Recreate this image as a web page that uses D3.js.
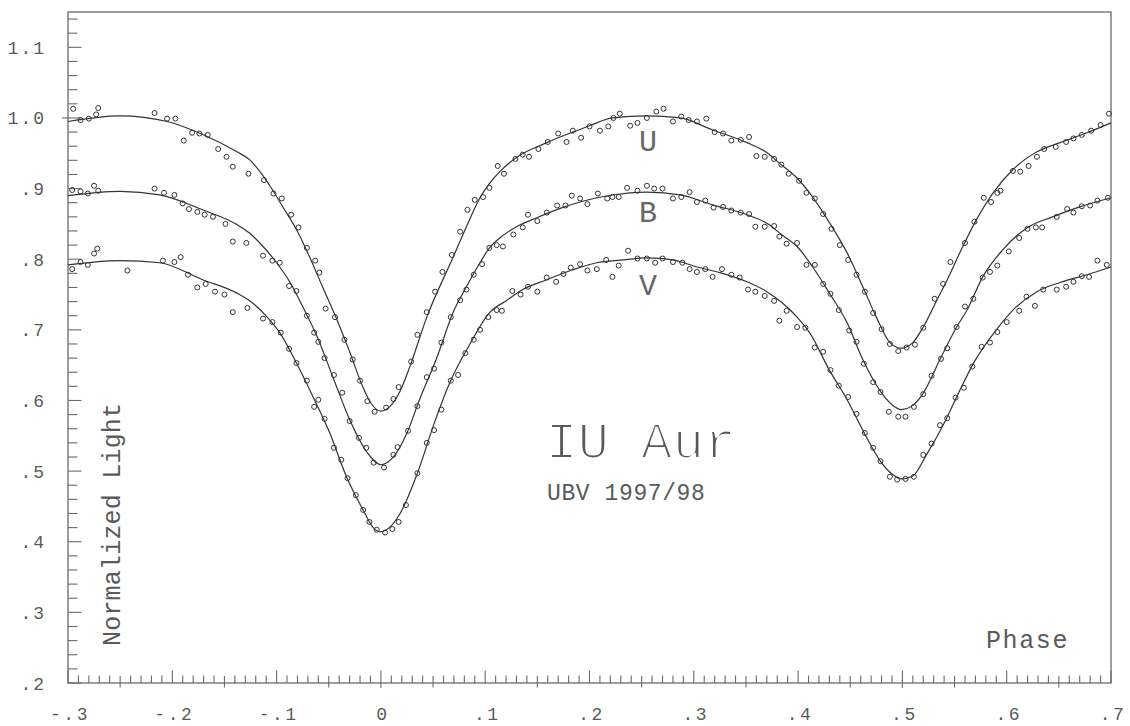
<!DOCTYPE html>
<html>
<head>
<meta charset="utf-8">
<script src="https://cdn.jsdelivr.net/npm/d3@7"></script>
<style>
  body { margin: 0; background: #fff; }
  text { font-family: "Liberation Mono", "DejaVu Sans Mono", monospace; fill: #5a5a5a; }
</style>
</head>
<body>
<svg id="chart" width="1130" height="726"></svg>
<script>
// IU Aur, UBV light curves 1997/98: fitted model and observed normal points
// Each entry: [phase, normalized light]

const uModel = [
  [-0.300,0.995],[-0.250,1.003],[-0.205,0.995],[-0.173,0.978],[-0.138,0.952],[-0.126,0.941],[-0.116,0.924],
  [-0.106,0.903],[-0.094,0.874],[-0.081,0.842],[-0.068,0.802],[-0.056,0.761],[-0.042,0.714],[-0.030,0.669],
  [-0.017,0.618],[-0.009,0.595],[0.000,0.585],[0.009,0.592],[0.018,0.612],[0.028,0.649],[0.044,0.718],
  [0.069,0.802],[0.085,0.856],[0.095,0.887],[0.104,0.907],[0.114,0.924],[0.128,0.942],[0.159,0.965],
  [0.184,0.980],[0.200,0.989],[0.222,1.000],[0.255,1.003],[0.287,1.000],[0.318,0.983],[0.351,0.965],
  [0.370,0.951],[0.382,0.936],[0.399,0.915],[0.414,0.888],[0.430,0.852],[0.447,0.809],[0.462,0.761],
  [0.475,0.718],[0.488,0.682],[0.499,0.674],[0.510,0.682],[0.520,0.704],[0.533,0.742],[0.543,0.771],
  [0.555,0.809],[0.571,0.856],[0.587,0.894],[0.606,0.927],[0.629,0.952],[0.651,0.965],[0.677,0.979],[0.700,0.993]
];

const bModel = [
  [-0.300,0.890],[-0.250,0.896],[-0.212,0.891],[-0.171,0.870],[-0.138,0.849],[-0.126,0.837],[-0.113,0.818],
  [-0.100,0.795],[-0.087,0.767],[-0.075,0.733],[-0.061,0.690],[-0.046,0.633],[-0.030,0.573],[-0.013,0.526],
  [0.000,0.509],[0.012,0.520],[0.025,0.554],[0.037,0.601],[0.054,0.662],[0.069,0.724],[0.082,0.761],
  [0.095,0.795],[0.104,0.816],[0.114,0.830],[0.130,0.846],[0.150,0.859],[0.174,0.873],[0.207,0.887],
  [0.239,0.894],[0.255,0.895],[0.287,0.891],[0.318,0.877],[0.351,0.863],[0.370,0.851],[0.385,0.834],
  [0.399,0.818],[0.414,0.789],[0.430,0.752],[0.447,0.710],[0.462,0.658],[0.478,0.615],[0.490,0.594],
  [0.499,0.587],[0.509,0.592],[0.519,0.608],[0.536,0.658],[0.552,0.704],[0.562,0.728],[0.577,0.775],
  [0.596,0.813],[0.619,0.844],[0.644,0.860],[0.670,0.874],[0.700,0.887]
];

const vModel = [
  [-0.300,0.792],[-0.250,0.798],[-0.212,0.795],[-0.171,0.771],[-0.138,0.752],[-0.123,0.738],[-0.109,0.718],
  [-0.097,0.696],[-0.081,0.653],[-0.065,0.605],[-0.049,0.554],[-0.033,0.492],[-0.016,0.442],[-0.008,0.421],
  [0.000,0.414],[0.008,0.420],[0.018,0.439],[0.035,0.497],[0.050,0.563],[0.066,0.625],[0.085,0.679],
  [0.104,0.724],[0.121,0.742],[0.136,0.757],[0.159,0.771],[0.184,0.785],[0.207,0.795],[0.232,0.799],
  [0.255,0.802],[0.280,0.799],[0.303,0.789],[0.325,0.781],[0.351,0.768],[0.370,0.754],[0.385,0.738],
  [0.399,0.718],[0.411,0.696],[0.430,0.643],[0.447,0.601],[0.462,0.558],[0.478,0.516],[0.490,0.496],
  [0.499,0.489],[0.510,0.493],[0.523,0.523],[0.539,0.565],[0.553,0.608],[0.569,0.655],[0.590,0.700],
  [0.606,0.728],[0.629,0.754],[0.651,0.767],[0.677,0.778],[0.700,0.789]
];

const uObs = [
  [-0.295,1.013],[-0.288,0.997],[-0.280,0.999],[-0.273,1.005],[-0.271,1.014],
  [-0.217,1.007],[-0.205,0.999],[-0.197,0.999],[-0.189,0.968],[-0.181,0.979],[-0.174,0.978],[-0.166,0.976],
  [-0.156,0.956],[-0.148,0.945],[-0.142,0.931],[-0.127,0.921],[-0.112,0.912],[-0.103,0.893],[-0.095,0.886],
  [-0.086,0.863],[-0.079,0.845],[-0.071,0.816],[-0.063,0.798],[-0.059,0.781],[-0.053,0.730],[-0.044,0.718],
  [-0.035,0.686],[-0.027,0.658],[-0.020,0.628],[-0.013,0.599],[-0.006,0.584],[0.005,0.590],[0.012,0.602],
  [0.017,0.619],[0.029,0.655],[0.035,0.693],[0.044,0.725],[0.052,0.754],[0.059,0.782],[0.068,0.806],
  [0.076,0.839],[0.083,0.870],[0.090,0.884],[0.098,0.888],[0.104,0.901],[0.112,0.932],[0.118,0.921],
  [0.129,0.942],[0.136,0.948],[0.142,0.945],[0.151,0.956],[0.160,0.966],[0.170,0.978],[0.178,0.966],
  [0.184,0.982],[0.192,0.972],[0.200,0.988],[0.210,0.982],[0.218,0.988],[0.223,1.000],[0.229,1.006],
  [0.239,0.989],[0.246,0.993],[0.255,1.000],[0.264,1.009],[0.271,1.013],[0.280,0.995],[0.288,1.002],
  [0.295,0.997],[0.303,0.995],[0.312,0.999],[0.320,0.980],[0.328,0.978],[0.336,0.968],[0.345,0.969],
  [0.353,0.973],[0.360,0.946],[0.368,0.945],[0.377,0.942],[0.384,0.934],[0.391,0.921],[0.401,0.911],
  [0.408,0.894],[0.416,0.886],[0.424,0.864],[0.432,0.843],[0.440,0.820],[0.448,0.799],[0.456,0.778],
  [0.464,0.754],[0.472,0.724],[0.480,0.701],[0.488,0.680],[0.496,0.670],[0.504,0.675],[0.512,0.679],
  [0.520,0.703],[0.531,0.744],[0.539,0.765],[0.546,0.796],[0.560,0.823],[0.569,0.853],[0.578,0.887],
  [0.585,0.881],[0.591,0.894],[0.594,0.897],[0.606,0.925],[0.613,0.924],[0.621,0.932],[0.629,0.945],
  [0.636,0.956],[0.647,0.959],[0.657,0.966],[0.664,0.971],[0.672,0.976],[0.681,0.982],[0.690,0.990],[0.698,1.006]
];

const bObs = [
  [-0.296,0.898],[-0.288,0.896],[-0.281,0.893],[-0.275,0.904],[-0.271,0.897],
  [-0.217,0.900],[-0.208,0.894],[-0.198,0.891],[-0.190,0.879],[-0.184,0.871],[-0.176,0.867],[-0.169,0.863],
  [-0.161,0.860],[-0.149,0.850],[-0.142,0.825],[-0.129,0.823],[-0.113,0.805],[-0.104,0.798],[-0.097,0.795],
  [-0.088,0.762],[-0.081,0.755],[-0.071,0.720],[-0.064,0.696],[-0.060,0.683],[-0.054,0.660],[-0.045,0.636],
  [-0.037,0.611],[-0.030,0.571],[-0.021,0.547],[-0.014,0.533],[-0.007,0.512],[0.003,0.505],[0.012,0.523],
  [0.016,0.534],[0.026,0.557],[0.035,0.592],[0.044,0.633],[0.051,0.645],[0.058,0.682],[0.067,0.718],
  [0.076,0.742],[0.082,0.757],[0.089,0.778],[0.097,0.793],[0.104,0.816],[0.111,0.820],[0.117,0.818],
  [0.127,0.835],[0.136,0.845],[0.141,0.863],[0.150,0.854],[0.159,0.866],[0.169,0.876],[0.177,0.876],
  [0.183,0.890],[0.191,0.886],[0.198,0.878],[0.208,0.893],[0.217,0.886],[0.222,0.888],[0.228,0.888],
  [0.236,0.901],[0.246,0.897],[0.255,0.904],[0.262,0.900],[0.270,0.900],[0.280,0.886],[0.288,0.888],
  [0.296,0.895],[0.303,0.881],[0.311,0.883],[0.319,0.873],[0.328,0.874],[0.336,0.869],[0.345,0.866],
  [0.353,0.864],[0.359,0.846],[0.368,0.846],[0.377,0.847],[0.382,0.832],[0.389,0.822],[0.399,0.823],
  [0.408,0.792],[0.416,0.792],[0.424,0.765],[0.431,0.751],[0.439,0.728],[0.449,0.699],[0.456,0.683],
  [0.463,0.652],[0.472,0.626],[0.479,0.612],[0.487,0.584],[0.496,0.577],[0.503,0.577],[0.511,0.591],
  [0.520,0.609],[0.528,0.635],[0.537,0.659],[0.543,0.674],[0.552,0.704],[0.560,0.733],[0.568,0.744],
  [0.577,0.774],[0.584,0.782],[0.591,0.791],[0.602,0.811],[0.612,0.830],[0.620,0.843],[0.628,0.845],
  [0.634,0.845],[0.648,0.860],[0.658,0.871],[0.664,0.866],[0.672,0.875],[0.680,0.876],[0.687,0.883],[0.697,0.887]
];

const vObs = [
  [-0.296,0.786],[-0.288,0.796],[-0.281,0.792],[-0.275,0.808],[-0.272,0.815],[-0.243,0.784],
  [-0.209,0.798],[-0.198,0.796],[-0.192,0.803],[-0.185,0.778],[-0.176,0.760],[-0.168,0.765],[-0.159,0.754],
  [-0.150,0.750],[-0.142,0.725],[-0.128,0.731],[-0.113,0.716],[-0.104,0.711],[-0.096,0.696],[-0.088,0.673],
  [-0.081,0.653],[-0.071,0.628],[-0.064,0.591],[-0.060,0.601],[-0.054,0.574],[-0.045,0.533],[-0.038,0.516],
  [-0.032,0.490],[-0.024,0.466],[-0.017,0.445],[-0.011,0.428],[-0.004,0.417],[0.004,0.413],[0.011,0.418],
  [0.017,0.428],[0.024,0.452],[0.035,0.497],[0.044,0.540],[0.051,0.558],[0.058,0.587],[0.067,0.628],
  [0.074,0.636],[0.081,0.667],[0.089,0.686],[0.095,0.700],[0.103,0.718],[0.111,0.728],[0.116,0.727],
  [0.126,0.755],[0.134,0.750],[0.141,0.761],[0.150,0.754],[0.159,0.774],[0.168,0.768],[0.175,0.779],
  [0.182,0.788],[0.191,0.793],[0.198,0.784],[0.207,0.786],[0.216,0.799],[0.222,0.775],[0.228,0.791],
  [0.237,0.812],[0.246,0.801],[0.255,0.801],[0.263,0.795],[0.270,0.801],[0.280,0.796],[0.289,0.795],
  [0.296,0.786],[0.303,0.782],[0.311,0.786],[0.318,0.775],[0.327,0.786],[0.336,0.778],[0.344,0.774],
  [0.352,0.757],[0.359,0.754],[0.368,0.748],[0.377,0.741],[0.382,0.713],[0.389,0.727],[0.399,0.704],
  [0.407,0.703],[0.416,0.675],[0.424,0.669],[0.431,0.643],[0.439,0.621],[0.448,0.605],[0.456,0.581],
  [0.464,0.554],[0.472,0.533],[0.479,0.514],[0.488,0.492],[0.495,0.488],[0.503,0.489],[0.511,0.492],
  [0.520,0.523],[0.528,0.539],[0.536,0.565],[0.543,0.575],[0.551,0.604],[0.559,0.618],[0.567,0.648],
  [0.576,0.676],[0.584,0.682],[0.591,0.697],[0.600,0.711],[0.612,0.727],[0.619,0.747],[0.627,0.734],
  [0.635,0.757],[0.648,0.757],[0.657,0.761],[0.664,0.768],[0.672,0.776],[0.679,0.775],[0.687,0.798],[0.696,0.792]
];

// Axis ticks and their printed labels
const xMajorTicks = [-0.3, -0.2, -0.1, 0, 0.1, 0.2, 0.3, 0.4, 0.5, 0.6, 0.7];
const xTickLabels = ["-.3", "-.2", "-.1", "0", ".1", ".2", ".3", ".4", ".5", ".6", ".7"];
const yMajorTicks = [0.2, 0.3, 0.4, 0.5, 0.6, 0.7, 0.8, 0.9, 1.0, 1.1];
const yTickLabels = [".2", ".3", ".4", ".5", ".6", ".7", ".8", ".9", "1.0", "1.1"];

// Band labels placed above the maximum of each curve
const bandNames = ["U", "B", "V"];
const bandLabelValues = [0.953, 0.853, 0.750];
const bandLabelPhase = 0.256;

const svg = d3.select("#chart");
const axisColor = "#6a6a6a";
const inkColor = "#333";

// Pen-weight filter: erode the large title's outlines so it reads as thin plotter strokes
svg.append("defs").append("filter").attr("id", "pen-thin")
  .attr("x", "-5%").attr("y", "-5%").attr("width", "110%").attr("height", "110%")
  .append("feMorphology").attr("operator", "erode").attr("radius", 1);

const x = d3.scaleLinear().domain([-0.3, 0.7]).range([68, 1111]);
const y = d3.scaleLinear().domain([0.2, 1.15]).range([683, 12]);

// Frame
svg.append("rect")
  .attr("x", x(-0.3)).attr("y", y(1.15))
  .attr("width", x(0.7) - x(-0.3)).attr("height", y(0.2) - y(1.15))
  .attr("fill", "none").attr("stroke", axisColor).attr("stroke-width", 1.3);

// X ticks: every 0.01, half-steps cross the axis, tenths are tall, eclipse phases extend both ways
const xTicks = d3.range(0, 101).map(i => ({ i, v: -0.3 + i * 0.01 }));
svg.append("g").selectAll("line").data(xTicks).join("line")
  .attr("x1", d => x(d.v)).attr("x2", d => x(d.v))
  .attr("y1", d => {
    if (d.i % 10 === 0) return y(0.2) - 12.5;
    if (d.i % 5 === 0) return y(0.2) - 7;
    return y(0.2) - 7.5;
  })
  .attr("y2", d => {
    if (d.i === 30 || d.i === 80) return y(0.2) + 5;
    if (d.i % 10 === 0) return y(0.2);
    if (d.i % 5 === 0) return y(0.2) + 4.5;
    return y(0.2);
  })
  .attr("stroke", axisColor).attr("stroke-width", 1.1);

// Y ticks: every 0.02, tenths longer, unit level extends outside
const yTicks = d3.range(0, 48).map(i => ({ i, v: 0.2 + i * 0.02 }));
svg.append("g").selectAll("line").data(yTicks).join("line")
  .attr("y1", d => y(d.v)).attr("y2", d => y(d.v))
  .attr("x1", d => d.i === 40 ? x(-0.3) - 6 : x(-0.3))
  .attr("x2", d => d.i % 5 === 0 ? x(-0.3) + 13.5 : x(-0.3) + 9.5)
  .attr("stroke", axisColor).attr("stroke-width", 1.1);

// Tick labels
svg.append("g").selectAll("text").data(xMajorTicks).join("text")
  .attr("x", d => x(d) + 2).attr("y", 720)
  .attr("text-anchor", "middle")
  .attr("font-size", 18).attr("letter-spacing", 2.5)
  .text((d, i) => xTickLabels[i]);

svg.append("g").selectAll("text").data(yMajorTicks).join("text")
  .attr("x", 46).attr("y", d => y(d) + 6.5)
  .attr("text-anchor", "end")
  .attr("font-size", 18).attr("letter-spacing", 2)
  .text((d, i) => yTickLabels[i]);

// Fitted light curves
const line = d3.line().x(d => x(d[0])).y(d => y(d[1])).curve(d3.curveMonotoneX);
[uModel, bModel, vModel].forEach(series => {
  svg.append("path").datum(series)
    .attr("d", line)
    .attr("fill", "none").attr("stroke", inkColor).attr("stroke-width", 1.2);
});

// Observations
[uObs, bObs, vObs].forEach(series => {
  svg.append("g").selectAll("circle").data(series).join("circle")
    .attr("cx", d => x(d[0])).attr("cy", d => y(d[1]))
    .attr("r", 2.5)
    .attr("fill", "none").attr("stroke", inkColor).attr("stroke-width", 1);
});

// Band labels
svg.append("g").selectAll("text").data(bandNames).join("text")
  .attr("x", x(bandLabelPhase)).attr("y", (d, i) => y(bandLabelValues[i]))
  .attr("text-anchor", "middle")
  .attr("font-size", 30)
  .style("fill", "#666")
  .text(d => d);

// Titles
svg.append("text").attr("filter", "url(#pen-thin)")
  .attr("x", 546).attr("y", 458)
  .attr("font-size", 52).attr("letter-spacing", 0.5).text("IU Aur");
svg.append("text")
  .attr("x", 547).attr("y", 500)
  .attr("font-size", 23).attr("letter-spacing", 0.6).text("UBV 1997/98");

// Axis titles
svg.append("text")
  .attr("x", 986).attr("y", 648)
  .attr("font-size", 25).attr("letter-spacing", 1.6).text("Phase");
svg.append("text")
  .attr("transform", "translate(120,646) rotate(-90)")
  .attr("font-size", 25).attr("letter-spacing", 0.2).text("Normalized Light");
</script>
</body>
</html>
